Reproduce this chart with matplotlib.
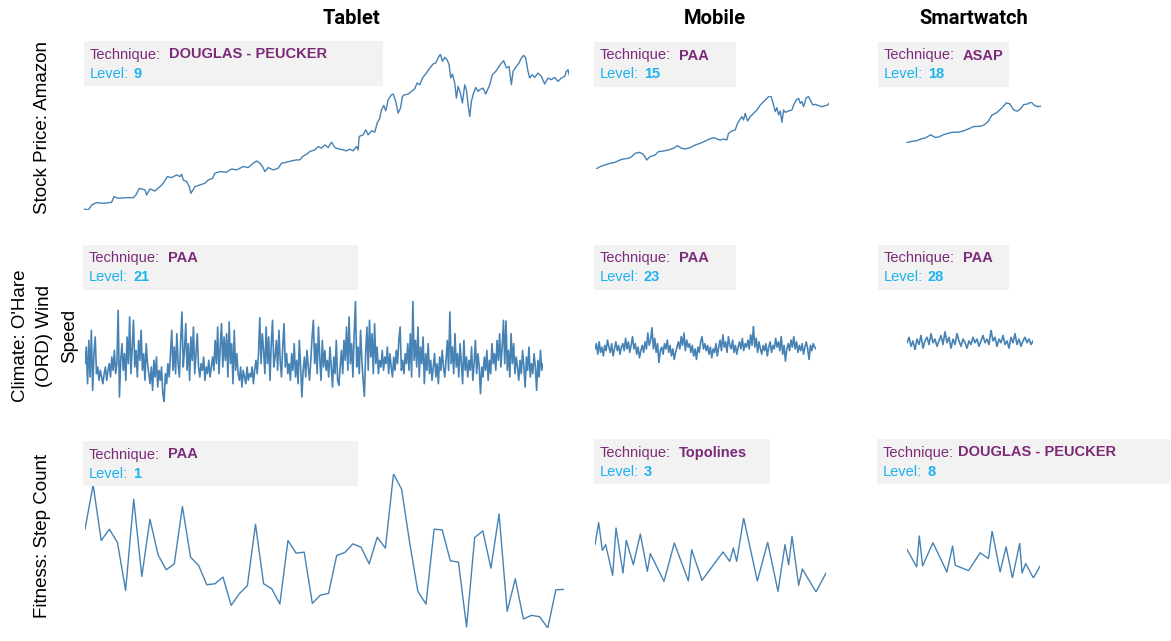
import matplotlib
matplotlib.use('Agg')
import matplotlib.pyplot as plt
from matplotlib.patches import Rectangle

# ---------------- DATA ----------------
columns = ["Tablet", "Mobile", "Smartwatch"]
rows = ["Stock Price: Amazon", "Climate: O'Hare\n(ORD) Wind\nSpeed", "Fitness: Step Count"]

techniques = [["DOUGLAS - PEUCKER", "PAA", "ASAP"],
              ["PAA", "PAA", "PAA"],
              ["PAA", "Topolines", "DOUGLAS - PEUCKER"]]
levels = [["9", "15", "18"],
          ["21", "23", "28"],
          ["1", "3", "8"]]

# Stock price (Amazon), tablet - Douglas-Peucker level 9
stock_tab_day = [0, 13, 23, 38, 58, 83, 90, 103, 128, 148, 156, 166, 183, 188, 198, 213, 228, 238, 250, 263,
                 278, 288, 293, 298, 308, 316, 321, 333, 348, 363, 373, 386, 393, 408, 428, 443, 458, 478, 493, 508,
                 518, 528, 536, 543, 553, 568, 583, 593, 608, 623, 638, 648, 656, 668, 678, 693, 703, 713, 723, 733,
                 743, 753, 763, 778, 788, 798, 808, 818, 823, 826, 838, 846, 853, 863, 873, 880, 888, 893, 900, 906,
                 913, 923, 928, 936, 943, 950, 956, 963, 973, 983, 993, 1000, 1008, 1016, 1028, 1038, 1048, 1056, 1063, 1070,
                 1076, 1083, 1090, 1096, 1101, 1106, 1113, 1118, 1123, 1130, 1136, 1143, 1148, 1153, 1158, 1163, 1168, 1176, 1183, 1188,
                 1198, 1206, 1213, 1218, 1226, 1236, 1246, 1253, 1260, 1268, 1276, 1283, 1288, 1296, 1306, 1313, 1320, 1326, 1333, 1338,
                 1346, 1353, 1363, 1373, 1383, 1393, 1403, 1413, 1423, 1433, 1443, 1448, 1453, 1456]
stock_tab_price = [38, 35, 50, 57, 55, 58, 75, 70, 72, 72, 80, 100, 95, 80, 98, 92, 105, 115, 135, 132,
                   140, 135, 142, 125, 120, 105, 85, 105, 110, 115, 125, 130, 145, 150, 148, 158, 155, 165, 162, 175,
                   182, 175, 165, 150, 162, 155, 160, 175, 178, 182, 185, 185, 195, 202, 210, 215, 225, 220, 230, 222,
                   238, 222, 218, 215, 212, 217, 212, 225, 215, 255, 260, 275, 260, 272, 268, 295, 310, 335, 348, 332,
                   365, 380, 382, 360, 325, 340, 375, 380, 382, 390, 398, 415, 410, 430, 445, 460, 472, 475, 490, 502,
                   480, 492, 485, 470, 430, 442, 415, 370, 405, 385, 355, 410, 395, 350, 315, 360, 380, 402, 390, 395,
                   400, 382, 398, 410, 440, 450, 465, 475, 482, 460, 465, 410, 450, 462, 475, 490, 498, 490, 450, 430,
                   440, 432, 445, 435, 412, 430, 425, 432, 420, 430, 435, 450, 455, 440]

# Stock price, mobile - PAA level 15
stock_mob_day = [0, 12, 27, 42, 57, 72, 82, 97, 107, 117, 130, 142, 152, 162, 177, 187, 202, 217, 232, 244,
                 257, 267, 282, 297, 312, 327, 340, 354, 362, 372, 382, 392, 397, 407, 417, 424, 437, 442, 447, 454,
                 462, 472, 482, 492, 502, 512, 519, 525, 532, 537, 542, 547, 552, 557, 562, 567, 577, 587, 592, 600,
                 607, 612, 617, 622, 630, 637, 644, 650, 657, 667, 677, 687, 694, 698]
stock_mob_price = [18, 25, 30, 35, 38, 45, 48, 50, 55, 65, 68, 62, 45, 55, 60, 70, 72, 75, 80, 88,
                   80, 78, 82, 90, 95, 102, 108, 112, 108, 105, 108, 105, 125, 132, 135, 155, 175, 165, 185, 162,
                   175, 185, 195, 210, 220, 230, 237, 235, 210, 190, 202, 180, 192, 158, 195, 188, 192, 195, 210, 225,
                   230, 215, 220, 205, 232, 235, 220, 210, 212, 208, 205, 208, 210, 215]

# Stock price, smartwatch - ASAP level 18
stock_sw_day = [0, 17, 32, 44, 57, 74, 87, 97, 112, 127, 142, 157, 172, 187, 202, 222, 234, 247, 257, 272,
                287, 300, 310, 322, 332, 342, 352, 364, 374, 384, 394, 404]
stock_sw_price = [15, 20, 22, 27, 30, 40, 32, 33, 40, 45, 48, 48, 52, 58, 65, 66, 70, 82, 100, 108,
                  122, 137, 135, 116, 112, 118, 132, 134, 140, 130, 126, 127]

# Wind speed, tablet - PAA level 21
wind_tab = [13, 18, 7, 20, 9, 23, 5, 16, 21, 10,
            12, 8, 11, 9, 7, 10, 12, 8, 11, 13,
            9, 15, 11, 17, 10, 13, 29, 3, 14, 19,
            11, 16, 8, 21, 13, 27, 10, 18, 26, 12,
            17, 9, 20, 14, 23, 11, 16, 8, 19, 13,
            10, 7, 12, 5, 14, 9, 15, 6, 11, 8,
            12, 4, 1.5, 10, 7, 13, 9, 16, 23, 11,
            18, 10, 22, 13, 9, 20, 28.5, 12, 17, 25,
            11, 19, 8, 21, 14, 24, 10, 16, 22, 12,
            9, 13, 11, 15, 8, 12, 10, 14, 9, 12,
            15, 11, 20, 13, 24, 10, 18, 25, 12, 21,
            14, 22, 9, 25.5, 13, 19, 7, 23, 11, 16,
            10, 8, 12, 6, 11, 9, 7, 12, 8, 10,
            9, 12, 7, 11, 14, 10, 16, 26.8, 13, 22,
            17, 10, 24, 13, 21, 8, 19, 26, 12, 15,
            20, 11, 23, 14, 9, 18, 25, 12, 16, 10,
            13, 8, 16, 11, 19, 9, 14, 7, 20, 12,
            3, 11, 15, 9, 17, 12, 8, 14, 21, 26,
            13, 19, 10, 24, 15, 8, 20, 12, 17, 11,
            14, 9, 18, 12, 6, 15, 10, 20, 8, 6.5,
            12, 17, 10, 20, 14, 24, 11, 27, 13, 19,
            9, 22, 31.7, 12, 18, 10, 23, 14, 8, 3.2,
            16, 24, 11, 26, 15, 22, 10, 25, 13, 18,
            10, 14, 12, 17, 11, 15, 13, 18, 10, 16,
            12, 9, 15, 11, 17, 13, 20, 24, 11, 14,
            10, 16, 13, 19, 11, 22, 9, 31.8, 14, 20,
            12, 24, 9, 18, 13, 21, 7, 16, 11, 19,
            10, 14, 8, 12, 16, 9, 13, 7, 15, 11,
            17, 12, 9, 14, 20, 11, 28.5, 13, 18, 10,
            22, 12, 16, 9, 19, 13, 7, 20, 11, 15,
            9, 14, 11, 18, 8, 13, 20, 10, 16, 12,
            4, 12, 9, 15, 11, 17, 8, 14, 10, 19,
            13, 16, 11, 20, 14, 22, 12, 18, 26, 13,
            25.8, 11, 17, 9, 22, 13, 19, 10, 15, 12,
            8, 14, 10, 17, 12, 6, 15, 11, 18, 9,
            13, 10, 16, 12, 5, 14, 9, 17, 11, 13]

# Wind speed, mobile - PAA level 23
wind_mob = [12, 15, 9, 16, 10, 13, 8, 14, 11, 17,
            13, 10, 15, 8, 12, 16, 11, 14, 9, 13,
            15, 11, 18, 12, 16, 10, 14, 19, 12, 15,
            9, 13, 7, 11, 14, 10, 16, 12, 21, 14,
            17, 24, 12, 18, 10, 15, 4, 11, 13, 9,
            15, 12, 17, 10, 14, 8, 12, 6, 10, 13,
            16, 12, 19, 14, 21, 11, 17, 13, 15, 10,
            14, 8, 12, 6, 13, 10, 16, 19, 12, 15,
            11, 14, 9, 13, 7, 12, 10, 15, 8, 13,
            17, 11, 20, 13, 16, 10, 19, 14, 12, 17,
            10, 14, 9, 13, 16, 12, 18, 11, 15, 13,
            17, 12, 20, 14, 25, 13, 18, 10, 16, 12,
            9, 14, 11, 15, 8, 13, 16, 10, 14, 12,
            18, 13, 16, 11, 19, 9, 14, 5, 12, 15,
            11, 17, 13, 19, 12, 16, 10, 14, 11, 15,
            9, 13, 16, 12, 6, 14, 11, 15, 13, 12]

# Wind speed, smartwatch - PAA level 28
wind_sw = [12, 15, 10, 13, 8, 14, 11, 16, 9, 13,
           15, 11, 17, 12, 14, 10, 13, 16, 11, 18,
           12, 15, 9, 14, 11, 17, 13, 10, 14, 12,
           9, 13, 11, 15, 12, 14, 10, 13, 16, 12,
           14, 11, 19, 13, 15, 10, 14, 12, 16, 11,
           13, 9, 15, 12, 17, 11, 14, 10, 13, 15,
           12, 14, 11, 13]

# Step count, tablet - PAA level 1
steps_tab = [332, 465, 298, 332, 292, 148, 422, 190, 362, 255,
             210, 228, 400, 248, 223, 165, 168, 188, 103, 138,
             162, 347, 168, 153, 107, 298, 260, 263, 109, 134,
             139, 253, 262, 288, 278, 228, 308, 275, 498, 452,
             290, 145, 107, 332, 330, 237, 233, 38, 307, 327,
             215, 378, 85, 183, 62, 73, 69, 35, 150, 151]

# Step count, mobile - Topolines level 3
steps_mob_t = [0, 11, 22, 32, 53, 63, 84, 94, 115, 136, 157, 166, 207, 238, 280, 290,
               321, 384, 404, 415, 425, 446, 487, 518, 549, 570, 581, 591, 611, 622, 663, 693]
steps_mob = [172, 238, 155, 172, 80, 222, 87, 185, 112, 204, 92, 145, 62, 177, 63, 157,
             65, 150, 122, 162, 122, 252, 63, 179, 32, 172, 112, 197, 50, 99, 30, 87]

# Step count, smartwatch - Douglas-Peucker level 8
steps_sw_t = [0, 29, 37, 47, 78, 120, 137, 145, 185, 220, 245, 256, 280, 298, 317, 339, 346, 357, 380, 400]
steps_sw = [107, 55, 147, 58, 127, 40, 117, 60, 44, 97, 80, 162, 40, 115, 22, 125, 37, 65, 22, 57]

# ---------------- STYLE / LAYOUT ----------------
W, H = 1171, 641
LINE = '#4682b4'
PURPLE = '#7b2a78'
CYAN = '#1db3ef'
BOXC = '#f2f2f2'
FONT = 'Liberation Sans'

fig = plt.figure(figsize=(W / 100, H / 100), dpi=100)


def px_axes(x0, x1, y0, y1):
    ax = fig.add_axes([x0 / W, 1 - y1 / H, (x1 - x0) / W, (y1 - y0) / H])
    ax.axis('off')
    ax.margins(0)
    return ax


def draw(ax, x, y, lw):
    ax.plot(x, y, color=LINE, lw=lw, solid_joinstyle='round')
    ax.set_xlim(min(x), max(x))
    ax.set_ylim(min(y), max(y))


# line panels: (row, col) -> pixel extents
ext = {
    (0, 0): (84, 569, 54, 210), (0, 1): (596, 829, 96, 169), (0, 2): (906, 1041, 102, 143),
    (1, 0): (85, 543, 301, 402), (1, 1): (595, 816, 326, 363), (1, 2): (907, 1033, 330, 350),
    (2, 0): (85, 564, 474, 628), (2, 1): (595, 826, 518, 592), (2, 2): (907, 1040, 531, 578),
}
series = {
    (0, 0): (stock_tab_day, stock_tab_price),
    (0, 1): (stock_mob_day, stock_mob_price),
    (0, 2): (stock_sw_day, stock_sw_price),
    (1, 0): (list(range(len(wind_tab))), wind_tab),
    (1, 1): (list(range(len(wind_mob))), wind_mob),
    (1, 2): (list(range(len(wind_sw))), wind_sw),
    (2, 0): (list(range(len(steps_tab))), steps_tab),
    (2, 1): (steps_mob_t, steps_mob),
    (2, 2): (steps_sw_t, steps_sw),
}
for key, (x0, x1, y0, y1) in ext.items():
    ax = px_axes(x0, x1, y0, y1)
    xs, ys = series[key]
    draw(ax, xs, ys, 1.2 if key[0] == 1 else 1.0)

# annotation boxes: (left, right, top) in px
boxes = {
    (0, 0): (84, 383, 41), (0, 1): (594, 736, 42), (0, 2): (878, 1009, 42),
    (1, 0): (83, 358, 245), (1, 1): (594, 736, 245), (1, 2): (878, 1009, 245),
    (2, 0): (83, 358, 441), (2, 1): (594, 770, 439), (2, 2): (877, 1170, 439),
}
BOXH = 45
for (r, c), (bl, br, bt) in boxes.items():
    fig.patches.append(Rectangle((bl / W, 1 - (bt + BOXH) / H), (br - bl) / W, BOXH / H,
                                 transform=fig.transFigure, facecolor=BOXC, edgecolor='none', zorder=0))
    ty1 = 1 - (bt + 13.5) / H
    ty2 = 1 - (bt + 32.5) / H
    off = 81 if (r, c) == (2, 2) else 85
    fig.text((bl + 6) / W, ty1, "Technique:", color=PURPLE, fontsize=10.5, family=FONT, va='center')
    fig.text((bl + off) / W, ty1, techniques[r][c], color=PURPLE, fontsize=10.5, family=FONT,
             fontweight='bold', va='center')
    fig.text((bl + 6) / W, ty2, "Level:", color=CYAN, fontsize=10.5, family=FONT, va='center')
    fig.text((bl + 50) / W, ty2, levels[r][c], color=CYAN, fontsize=10.5, family=FONT,
             fontweight='bold', va='center')

# column titles
title_x = [352, 715, 974]
for name, tx in zip(columns, title_x):
    fig.text(tx / W, 1 - 19 / H, name, ha='center', va='center', fontsize=14.5,
             fontweight='bold', family='Roboto', color='black')

# row labels
row_pos = [(43, 127), (45, 336), (43, 536)]
for lab, (rx, ry) in zip(rows, row_pos):
    fig.text(rx / W, 1 - ry / H, lab, rotation=90, ha='center', va='center', fontsize=13.5,
             family=FONT, color='black', multialignment='center', linespacing=1.55)

fig.savefig('out.png', dpi=100)
